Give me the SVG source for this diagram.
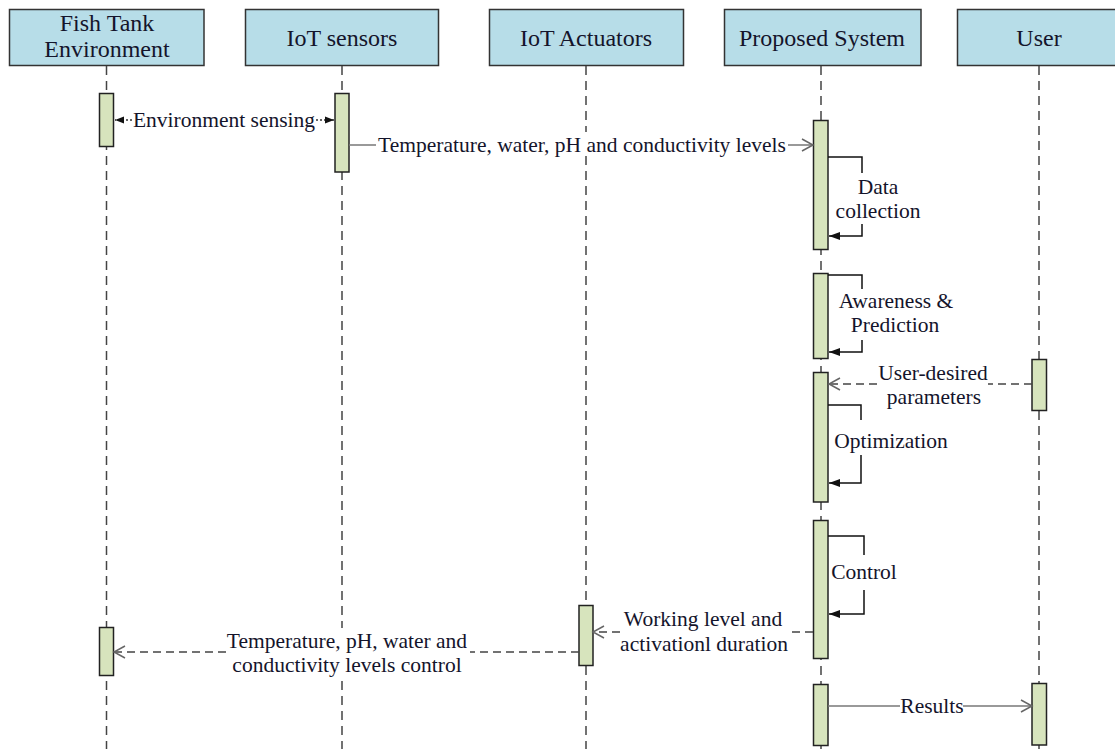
<svg xmlns="http://www.w3.org/2000/svg" width="1115" height="749" viewBox="0 0 1115 749">
  <style>
    .head { fill: #b7dde8; stroke: #333; stroke-width: 1.5; }
    .htxt { font-family: "Liberation Serif", "Times New Roman", serif; font-size: 24px; fill: #14142b; text-anchor: middle; }
    .txt { font-family: "Liberation Serif", "Times New Roman", serif; font-size: 21.5px; fill: #14142b; text-anchor: middle; }
    .life { stroke: #444; stroke-width: 1.5; stroke-dasharray: 9 6; fill: none; }
    .bar { fill: #d7e4bd; stroke: #222; stroke-width: 1.5; }
    .sync { stroke: #777; stroke-width: 1.5; fill: none; }
    .reply { stroke: #444; stroke-width: 1.5; stroke-dasharray: 8 5; fill: none; }
    .dot { stroke: #333; stroke-width: 1.5; stroke-dasharray: 2 2; fill: none; }
    .self { stroke: #111; stroke-width: 1.5; fill: none; }
    .lblbg { fill: #fff; }
  </style>
  <defs>
    <marker id="open" markerWidth="14" markerHeight="14" refX="12" refY="7" orient="auto" markerUnits="userSpaceOnUse">
      <path d="M1,1 L12,7 L1,13" fill="none" stroke="#666" stroke-width="1.5"/>
    </marker>
    <marker id="filled" markerWidth="12" markerHeight="10" refX="11" refY="5" orient="auto" markerUnits="userSpaceOnUse">
      <path d="M0,1 L11,5 L0,9 Z" fill="#111"/>
    </marker>
    <marker id="small" markerWidth="10" markerHeight="8" refX="9" refY="4" orient="auto" markerUnits="userSpaceOnUse">
      <path d="M0,0.5 L9,4 L0,7.5 Z" fill="#111"/>
    </marker>
  </defs>

  <!-- participants with lifelines and activation bars -->
  <g id="fish-tank">
    <rect class="head" x="9.5" y="9.5" width="194.5" height="56"/>
    <text class="htxt" x="107" y="31">Fish Tank</text>
    <text class="htxt" x="107" y="57">Environment</text>
    <line class="life" x1="106.5" y1="66" x2="106.5" y2="749"/>
    <rect class="bar" x="99.5" y="93.5" width="14" height="53"/>
    <rect class="bar" x="99.5" y="627.5" width="14" height="48"/>
  </g>

  <g id="iot-sensors">
    <rect class="head" x="245.5" y="9.5" width="193" height="56"/>
    <text class="htxt" x="342" y="46">IoT sensors</text>
    <line class="life" x1="342" y1="66" x2="342" y2="749"/>
    <rect class="bar" x="335" y="93.5" width="14" height="78.5"/>
  </g>

  <g id="iot-actuators">
    <rect class="head" x="489.5" y="9.5" width="194" height="56"/>
    <text class="htxt" x="586" y="46">IoT Actuators</text>
    <line class="life" x1="586" y1="66" x2="586" y2="749"/>
    <rect class="bar" x="579" y="605.5" width="14" height="60"/>
  </g>

  <g id="proposed-system">
    <rect class="head" x="724.5" y="9.5" width="196.5" height="56"/>
    <text class="htxt" x="822" y="46">Proposed System</text>
    <line class="life" x1="821" y1="66" x2="821" y2="749"/>
    <rect class="bar" x="813.5" y="120.5" width="14.5" height="129"/>
    <rect class="bar" x="813.5" y="273.5" width="14.5" height="85"/>
    <rect class="bar" x="813.5" y="372.5" width="14.5" height="129.5"/>
    <rect class="bar" x="813.5" y="520.5" width="14.5" height="138"/>
    <rect class="bar" x="813.5" y="684.5" width="14.5" height="61"/>
  </g>

  <g id="user">
    <rect class="head" x="957.5" y="9.5" width="165" height="56"/>
    <text class="htxt" x="1039" y="46">User</text>
    <line class="life" x1="1039" y1="66" x2="1039" y2="749"/>
    <rect class="bar" x="1032" y="359.5" width="14.5" height="51"/>
    <rect class="bar" x="1032" y="683.5" width="14.5" height="61.5"/>
  </g>

  <!-- messages -->
  <g id="connectors">
    <!-- Environment sensing (both ways) -->
    <path class="dot" d="M132,120 H115" marker-end="url(#small)"/>
    <path class="dot" d="M316,120 H334" marker-end="url(#small)"/>
    <text class="txt" x="224" y="127">Environment sensing</text>

    <!-- sensor readings to the system -->
    <path class="sync" d="M349,145 H376"/>
    <path class="sync" d="M788,145 H813" marker-end="url(#open)"/>
    <rect class="lblbg" x="570" y="132" width="30" height="24"/>
    <text class="txt" x="582" y="152">Temperature, water, pH and conductivity levels</text>

    <!-- Data collection -->
    <path class="self" d="M828,157 H862 V173"/>
    <path class="self" d="M862,224 V236 H829" marker-end="url(#filled)"/>
    <text class="txt" x="878" y="194">Data</text>
    <text class="txt" x="878" y="218">collection</text>

    <!-- Awareness & Prediction -->
    <path class="self" d="M828,275 H862 V289"/>
    <path class="self" d="M862,340 V352 H829" marker-end="url(#filled)"/>
    <text class="txt" x="896" y="308">Awareness &amp;</text>
    <text class="txt" x="895" y="332">Prediction</text>

    <!-- User-desired parameters -->
    <path class="reply" d="M1032,384 H988"/>
    <path class="reply" d="M877,384 H829" marker-end="url(#open)"/>
    <text class="txt" x="933" y="380">User-desired</text>
    <text class="txt" x="934" y="404">parameters</text>

    <!-- Optimization -->
    <path class="self" d="M828,405 H861 V420"/>
    <path class="self" d="M861,455 V483 H829" marker-end="url(#filled)"/>
    <text class="txt" x="891" y="448">Optimization</text>

    <!-- Control -->
    <path class="self" d="M828,536 H864 V555"/>
    <path class="self" d="M864,590 V614 H829" marker-end="url(#filled)"/>
    <text class="txt" x="864" y="579">Control</text>

    <!-- Working level and activation duration -->
    <path class="reply" d="M813,632 H790"/>
    <path class="reply" d="M620,632 H593" marker-end="url(#open)"/>
    <text class="txt" x="703" y="626">Working level and</text>
    <text class="txt" x="704" y="651">activationl duration</text>

    <!-- control levels back to the tank -->
    <path class="reply" d="M579,652 H470"/>
    <path class="reply" d="M226,652 H114" marker-end="url(#open)"/>
    <rect class="lblbg" x="330" y="628" width="24" height="50"/>
    <text class="txt" x="347" y="648">Temperature, pH, water and</text>
    <text class="txt" x="347" y="672">conductivity levels control</text>

    <!-- Results -->
    <path class="sync" d="M828,706 H900"/>
    <path class="sync" d="M963,706 H1032" marker-end="url(#open)"/>
    <text class="txt" x="932" y="713">Results</text>
  </g>
</svg>
